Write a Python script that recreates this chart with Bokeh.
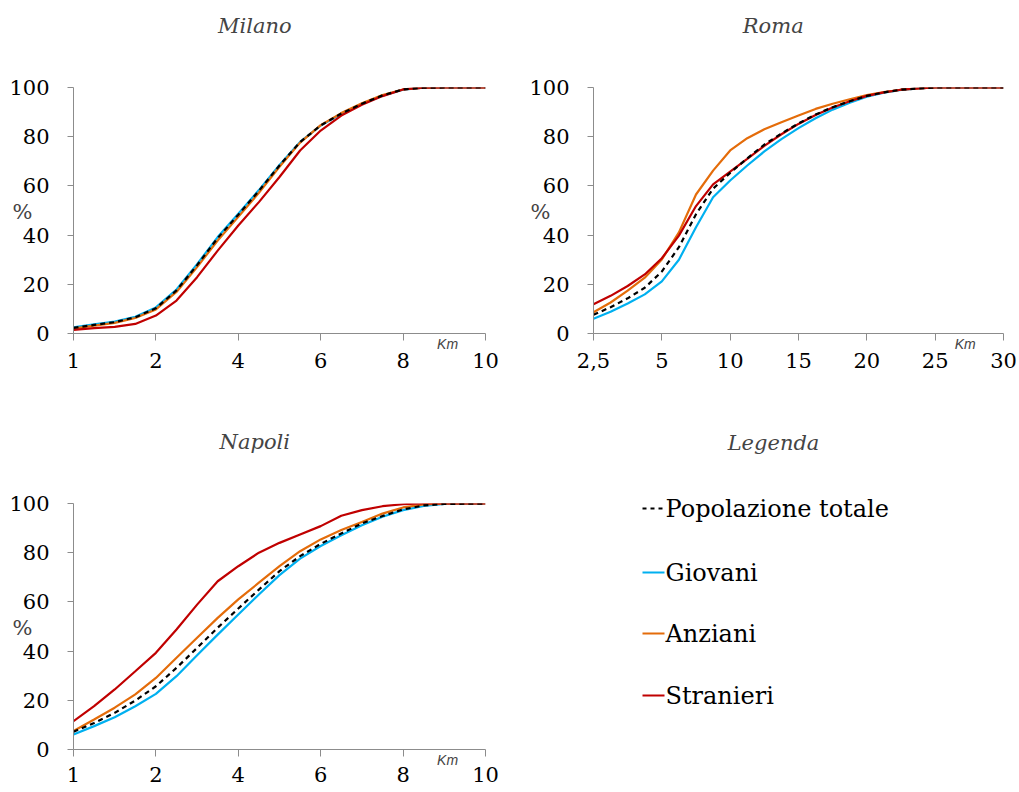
from bokeh.plotting import figure
from bokeh.models import Range1d, FixedTicker, Label
from bokeh.layouts import column, row
from bokeh.embed import file_html
from bokeh.resources import INLINE
from bokeh.core.properties import value

# ---------------- data ----------------
series_names = ["Popolazione totale", "Giovani", "Anziani", "Stranieri"]
series_colors = ["#000000", "#00B0F0", "#E46C0A", "#C00000"]

# x positions are category positions on the axis (ticks at integer positions)
milano_ticks = ["1", "2", "4", "6", "8", "10"]
milano_x = [0, 0.25, 0.5, 0.75, 1, 1.25, 1.5, 1.75, 2, 2.25, 2.5, 2.75, 3, 3.25, 3.5, 3.75, 4, 4.25, 4.5, 5]
milano_totale = [2.3, 3.5, 4.6, 6.6, 10.3, 17.5, 27.8, 38.8, 48.3, 58.0, 68.3, 77.8, 84.6, 89.4, 93.4, 96.8, 99.2, 99.9, 100, 100]
milano_giovani = [2.5, 3.7, 4.8, 6.8, 10.6, 17.9, 28.2, 39.2, 48.7, 58.3, 68.5, 77.9, 84.5, 89.3, 93.3, 96.7, 99.1, 99.9, 100, 100]
milano_anziani = [2.0, 3.2, 4.3, 6.3, 9.8, 16.9, 27.0, 37.8, 47.4, 57.2, 67.8, 77.6, 84.7, 89.6, 93.6, 96.9, 99.2, 99.9, 100, 100]
milano_stranieri = [1.5, 2.2, 2.7, 3.9, 7.3, 13.4, 22.9, 33.7, 43.9, 53.4, 63.6, 74.4, 82.5, 88.6, 93.0, 96.5, 99.2, 99.9, 100, 100]

roma_ticks = ["2,5", "5", "10", "15", "20", "25", "30"]
roma_x = [0, 0.25, 0.5, 0.75, 1, 1.25, 1.5, 1.75, 2, 2.25, 2.5, 2.75, 3, 3.25, 3.5, 3.75, 4, 4.25, 4.5, 4.75, 5, 6]
roma_totale = [7.6, 10.7, 14.3, 18.6, 25.2, 35.1, 48.5, 58.9, 65.3, 71.2, 76.8, 81.3, 85.4, 89.0, 92.0, 94.4, 96.6, 98.0, 99.1, 99.6, 100, 100]
roma_giovani = [6.0, 8.8, 12.2, 15.9, 21.2, 30.0, 43.2, 55.4, 62.2, 68.3, 74.0, 79.0, 83.5, 87.5, 91.0, 93.8, 96.3, 97.9, 99.0, 99.6, 100, 100]
roma_anziani = [8.6, 12.6, 17.4, 22.7, 30.1, 41.1, 56.5, 66.2, 74.4, 79.4, 83.0, 85.9, 88.6, 91.3, 93.4, 95.2, 96.9, 98.1, 99.1, 99.6, 100, 100]
roma_stranieri = [11.9, 15.3, 19.3, 24.0, 30.6, 39.8, 51.8, 60.6, 65.8, 71.0, 76.3, 81.0, 85.2, 88.8, 91.9, 94.4, 96.6, 98.0, 99.1, 99.6, 100, 100]

napoli_ticks = ["1", "2", "4", "6", "8", "10"]
napoli_x = [0, 0.25, 0.5, 0.75, 1, 1.25, 1.5, 1.75, 2, 2.25, 2.5, 2.75, 3, 3.25, 3.5, 3.75, 4, 4.25, 4.5, 5]
napoli_totale = [7.2, 10.8, 14.9, 19.9, 25.7, 33.2, 41.3, 49.5, 57.3, 65.0, 72.5, 78.6, 83.6, 87.8, 91.9, 94.9, 97.6, 99.2, 99.8, 100]
napoli_giovani = [6.1, 9.5, 13.1, 17.6, 22.6, 29.8, 38.3, 46.7, 54.9, 63.0, 70.9, 77.6, 82.7, 87.1, 91.2, 94.6, 97.3, 99.0, 99.8, 100]
napoli_anziani = [7.5, 12.2, 17.0, 22.4, 29.1, 37.3, 45.4, 53.5, 61.0, 67.8, 74.5, 80.6, 85.4, 89.2, 92.5, 95.9, 98.4, 99.6, 99.9, 100]
napoli_stranieri = [11.5, 17.6, 24.4, 31.8, 39.3, 48.8, 58.9, 68.4, 74.5, 80.0, 84.0, 87.4, 90.8, 95.0, 97.3, 98.9, 99.7, 100, 100, 100]

SERIF = "DejaVu Serif"
SANS = "Arial"
AXIS_GREY = "#8C8C8C"


def make_panel(title, ticks, xs, ys_list, width, height, left, right, top, bottom,
               title_x, title_y, km_x, km_y, pct_x, pct_y, xstandoff):
    n = len(ticks) - 1
    p = figure(width=width, height=height,
               x_range=Range1d(0, n), y_range=Range1d(0, 100),
               output_backend="svg", toolbar_location=None,
               min_border_left=left, min_border_right=right,
               min_border_top=top, min_border_bottom=bottom)
    p.outline_line_color = None
    p.xgrid.visible = False
    p.ygrid.visible = False

    p.xaxis.ticker = FixedTicker(ticks=list(range(len(ticks))))
    p.xaxis.major_label_overrides = {i: t for i, t in enumerate(ticks)}
    p.yaxis.ticker = FixedTicker(ticks=[0, 20, 40, 60, 80, 100])
    for ax in (p.xaxis, p.yaxis):
        ax.axis_line_color = AXIS_GREY
        ax.major_tick_line_color = AXIS_GREY
        ax.minor_tick_line_color = None
        ax.major_tick_in = 0
        ax.major_label_text_font = SERIF
        ax.major_label_text_font_size = "21px"
        ax.major_label_text_color = "black"
    p.xaxis.major_tick_out = 7
    p.yaxis.major_tick_out = 6
    p.xaxis.major_label_standoff = xstandoff
    p.yaxis.major_label_standoff = 18

    for k in [1, 2, 3, 0]:
        kw = dict(line_color=series_colors[k], line_width=2.2)
        if k == 0:
            kw["line_dash"] = "5 4"
        p.line(xs, ys_list[k], **kw)

    # texts outside the frame live in a side panel so that they are not clipped
    p.add_layout(Label(x=title_x, y=title_y, text=title, text_font=SERIF,
                       text_font_size="21px", text_font_style="italic",
                       text_align="center", text_baseline="middle"), "above")
    p.add_layout(Label(x=km_x, y=km_y, text="Km", text_font=SANS,
                       text_font_size="14px", text_font_style="italic",
                       text_align="center", text_baseline="middle"), "above")
    p.add_layout(Label(x=pct_x, y=pct_y, text="%", text_font=SERIF,
                       text_font_size="21px",
                       text_align="center", text_baseline="middle"), "above")
    return p


# Milano: frame x 73..485, y 87..333
p1 = make_panel("Milano", milano_ticks, milano_x,
                [milano_totale, milano_giovani, milano_anziani, milano_stranieri],
                510, 400, 73, 25, 87, 67,
                2.2, 125.2, 4.54, -4.1, -0.62, 49.2, 12)
# Roma: frame x 593..1003, y 87..333
p2 = make_panel("Roma", roma_ticks, roma_x,
                [roma_totale, roma_giovani, roma_anziani, roma_stranieri],
                508, 400, 83, 15, 87, 67,
                2.63, 125.2, 5.44, -4.1, -0.775, 49.2, 12)
# Napoli: frame x 73..485, y 503..749
p3 = make_panel("Napoli", napoli_ticks, napoli_x,
                [napoli_totale, napoli_giovani, napoli_anziani, napoli_stranieri],
                510, 391, 73, 25, 103, 42,
                2.2, 125.2, 4.54, -4.1, -0.62, 49.2, 10)

# legend panel: frame covers the whole figure, coordinates in pixels
p4 = figure(width=508, height=391, x_range=Range1d(0, 508), y_range=Range1d(0, 391),
            x_axis_type=None, y_axis_type=None,
            output_backend="svg", toolbar_location=None, min_border=0)
p4.frame_align = False
p4.outline_line_color = None
p4.xgrid.visible = False
p4.ygrid.visible = False
legend_y = [283, 219, 158, 96]
for k in range(4):
    kw = dict(line_color=series_colors[k], line_width=2.2)
    if k == 0:
        kw["line_dash"] = "4 4"
    p4.line([132, 154], [legend_y[k], legend_y[k]], **kw)
p4.text(x=[155] * 4, y=legend_y, text=series_names, text_font=value(SERIF),
        text_font_size="24px", text_color="black",
        text_align="left", text_baseline="middle")
p4.add_layout(Label(x=263, y=349, text="Legenda", text_font=SERIF,
                    text_font_size="21px", text_font_style="italic",
                    text_align="center", text_baseline="middle"))

layout = column(row(p1, p2), row(p3, p4))
open("out.html", "w").write(file_html(layout, INLINE))
